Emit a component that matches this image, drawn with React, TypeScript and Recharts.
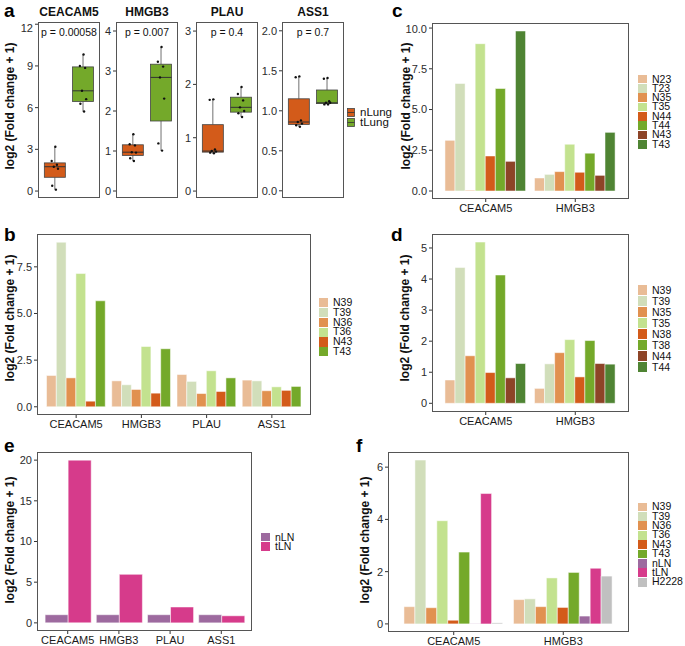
import { BarChart, Bar, XAxis, YAxis, Cell } from 'recharts'

const FONT = '"Liberation Sans", Arial, Helvetica, sans-serif'
const YW = 30
const XH = 20

// ---------- panel a (boxplots) ----------
const boxGenes = ['CEACAM5', 'HMGB3', 'PLAU', 'ASS1']
const boxP = ['p = 0.00058', 'p = 0.007', 'p = 0.4', 'p = 0.7']
const boxGroups = ['nLung', 'tLung']
const nLungPts = [
  [0.1, 0.38, 1.6, 1.75, 1.89, 2.16, 3.19],
  [0.75, 0.82, 0.96, 0.97, 1.14, 1.17, 1.42],
  [0.71, 0.72, 0.74, 0.75, 0.78, 1.71, 1.72],
  [0.8, 0.82, 0.84, 0.86, 0.88, 1.42, 1.43],
]
const tLungPts = [
  [5.72, 6.28, 6.61, 7.21, 8.86, 9.0, 9.82],
  [1.01, 1.19, 2.31, 2.84, 3.11, 3.23, 3.6],
  [1.39, 1.46, 1.5, 1.57, 1.7, 1.82, 1.95],
  [1.08, 1.08, 1.1, 1.1, 1.12, 1.4, 1.41],
]
const boxTicks = [
  [0, 3, 6, 9, 12],
  [0, 1, 2, 3, 4],
  [0, 1, 2, 3],
  [0, 0.5, 1, 1.5, 2],
]
const boxDomains = [
  [-0.5, 12.16],
  [-0.175, 4.225],
  [-0.13, 3.17],
  [-0.09, 2.11],
]
const jitter = [0.1, -0.25, 0.3, -0.1, 0.2, -0.3, 0.05]

// ---------- panel b ----------
const bGenes = ['CEACAM5', 'HMGB3', 'PLAU', 'ASS1']
const bSamples = ['N39', 'T39', 'N36', 'T36', 'N43', 'T43']
const bN39 = [1.68, 1.39, 1.73, 1.43]
const bT39 = [8.82, 1.18, 1.36, 1.39]
const bN36 = [1.55, 0.93, 0.71, 0.86]
const bT36 = [7.14, 3.23, 1.93, 1.07]
const bN43 = [0.3, 0.73, 0.82, 0.88]
const bT43 = [5.68, 3.11, 1.55, 1.09]

// ---------- panel c ----------
const cGenes = ['CEACAM5', 'HMGB3']
const cSamples = ['N23', 'T23', 'N35', 'T35', 'N44', 'T44', 'N43', 'T43']
const cN23 = [3.11, 0.8]
const cT23 = [6.6, 1.02]
const cN35 = [0.04, 1.19]
const cT35 = [9.04, 2.87]
const cN44 = [2.15, 1.15]
const cT44 = [6.29, 2.32]
const cN43 = [1.82, 0.96]
const cT43 = [9.82, 3.6]

// ---------- panel d ----------
const dGenes = ['CEACAM5', 'HMGB3']
const dSamples = ['N39', 'T39', 'N35', 'T35', 'N38', 'T38', 'N44', 'T44']
const dN39 = [0.75, 0.48]
const dT39 = [4.37, 1.27]
const dN35 = [1.53, 1.63]
const dT35 = [5.19, 2.05]
const dN38 = [0.99, 0.85]
const dT38 = [4.13, 2.02]
const dN44 = [0.82, 1.28]
const dT44 = [1.28, 1.26]

// ---------- panel e ----------
const eGenes = ['CEACAM5', 'HMGB3', 'PLAU', 'ASS1']
const eSamples = ['nLN', 'tLN']
const eNLN = [1.0, 1.0, 1.0, 1.0]
const eTLN = [20.0, 5.96, 1.95, 0.87]

// ---------- panel f ----------
const fGenes = ['CEACAM5', 'HMGB3']
const fSamples = ['N39', 'T39', 'N36', 'T36', 'N43', 'T43', 'nLN', 'tLN', 'H2228']
const fN39 = [0.66, 0.93]
const fT39 = [6.27, 0.96]
const fN36 = [0.62, 0.66]
const fT36 = [3.95, 1.76]
const fN43 = [0.14, 0.63]
const fT43 = [2.75, 1.97]
const fNLN = [0.01, 0.3]
const fTLN = [4.99, 2.13]
const fH2228 = [0.04, 1.83]

// colours
const shades = ['#E9BC96', '#D1DEBA', '#E19150', '#C3E28F', '#D35B1A', '#74A92A', '#8D4427', '#4F8433']
const lnColors = ['#9D6A9F', '#D63B8B']
const grey = '#C0C0C0'
const boxColors = ['#D35B1A', '#74A92A']

function q7(s: number[], p: number) {
  const h = (s.length - 1) * p
  const lo = Math.floor(h)
  const hi = Math.min(lo + 1, s.length - 1)
  return s[lo] + (h - lo) * (s[hi] - s[lo])
}

function boxStats(pts: number[]) {
  const s = [...pts].sort((a, b) => a - b)
  const q1 = q7(s, 0.25)
  const med = q7(s, 0.5)
  const q3 = q7(s, 0.75)
  const iqr = q3 - q1
  const lo = Math.min(...s.filter((v) => v >= q1 - 1.5 * iqr))
  const hi = Math.max(...s.filter((v) => v <= q3 + 1.5 * iqr))
  return { q1, med, q3, lo, hi, pts: s, box: [q1, q3] }
}

const BoxShape = (props: any) => {
  const { x, y, width, height, payload, fill } = props
  const top = Math.min(y, y + height)
  const h = Math.abs(height)
  const { q1, q3, med, lo, hi, pts } = payload
  const py = (v: number) => top + (h * (q3 - v)) / (q3 - q1)
  const cx = x + width / 2
  return (
    <g>
      <line x1={cx} x2={cx} y1={py(hi)} y2={py(q3)} stroke="#333" strokeWidth={0.7} />
      <line x1={cx} x2={cx} y1={py(q1)} y2={py(lo)} stroke="#333" strokeWidth={0.7} />
      <rect x={x} y={top} width={width} height={h} fill={fill} stroke="#444" strokeWidth={0.8} />
      <line x1={x} x2={x + width} y1={py(med)} y2={py(med)} stroke="#333" strokeWidth={1} />
      {pts.map((v: number, i: number) => (
        <circle key={i} cx={cx + (jitter[i % jitter.length] * width) / 2} cy={py(v)} r={1.2} fill="#111" />
      ))}
    </g>
  )
}

const tickStyle = { fontSize: 11, fill: '#2b2b2b', stroke: 'none', fontFamily: FONT }

function Frame({ rect }: { rect: number[] }) {
  const [x0, y0, x1, y1] = rect
  return (
    <div
      style={{
        position: 'absolute',
        left: x0,
        top: y0,
        width: x1 - x0,
        height: y1 - y0,
        border: '1px solid #555',
        boxSizing: 'border-box',
        pointerEvents: 'none',
      }}
    />
  )
}

function VLabel({ cx, cy, text }: { cx: number; cy: number; text: string }) {
  return (
    <div
      style={{
        position: 'absolute',
        left: cx,
        top: cy,
        transform: 'translate(-50%, -50%) rotate(-90deg)',
        whiteSpace: 'nowrap',
        fontWeight: 'bold',
        fontSize: 12,
        color: '#111',
      }}
    >
      {text}
    </div>
  )
}

function Tag({ x, base, letter }: { x: number; base: number; letter: string }) {
  return (
    <div
      style={{
        position: 'absolute',
        left: x,
        top: base - 16,
        fontSize: 19,
        lineHeight: '19px',
        fontWeight: 'bold',
        color: '#000',
      }}
    >
      {letter}
    </div>
  )
}

function Keys({ names, colors, x, top, row }: { names: string[]; colors: string[]; x: number; top: number; row: number }) {
  return (
    <div style={{ position: 'absolute', left: x, top }}>
      {names.map((n, i) => (
        <div key={n} style={{ height: row, display: 'flex', alignItems: 'center', fontSize: 10.5, color: '#111' }}>
          <span style={{ width: 9, height: row - 0.6, background: colors[i], marginRight: 5, flex: 'none' }} />
          <span style={{ lineHeight: `${row}px`, height: row }}>{n}</span>
        </div>
      ))}
    </div>
  )
}

function BarPanel({
  cats,
  names,
  values,
  colors,
  rect,
  domain,
  ticks,
  digits,
}: {
  cats: string[]
  names: string[]
  values: number[][]
  colors: string[]
  rect: number[]
  domain: number[]
  ticks: number[]
  digits: number
}) {
  const [x0, y0, x1, y1] = rect
  const w = x1 - x0
  const h = y1 - y0
  const unit = w / (cats.length + 0.2)
  const data = cats.map((c, i) => {
    const row: Record<string, any> = { gene: c }
    names.forEach((n, j) => (row[n] = values[j][i]))
    return row
  })
  return (
    <>
      <div style={{ position: 'absolute', left: x0 - YW, top: y0 }}>
        <BarChart
          width={w + YW}
          height={h + XH}
          data={data}
          margin={{ top: 0, right: 0, bottom: 0, left: 0 }}
          barGap={0}
          barCategoryGap="5%"
          barSize={(unit * 0.9) / names.length}
        >
          <XAxis
            dataKey="gene"
            interval={0}
            padding={{ left: unit * 0.1, right: unit * 0.1 }}
            axisLine={false}
            stroke="#333"
            tickLine={{ stroke: '#333' }}
            tickSize={3}
            height={XH}
            tick={{ ...tickStyle, fill: '#1a1a1a' }}
          />
          <YAxis
            type="number"
            width={YW}
            domain={domain}
            allowDataOverflow
            ticks={ticks}
            axisLine={false}
            stroke="#333"
            tickLine={{ stroke: '#333' }}
            tickSize={3}
            tick={tickStyle}
            tickFormatter={(v: number) => v.toFixed(digits)}
          />
          {names.map((n, j) => (
            <Bar key={n} dataKey={n} fill={colors[j]} stroke="#fff" strokeWidth={0.5} isAnimationActive={false} />
          ))}
        </BarChart>
      </div>
      <Frame rect={rect} />
    </>
  )
}

function BoxFacet({ idx, rect }: { idx: number; rect: number[] }) {
  const [x0, y0, x1, y1] = rect
  const w = x1 - x0
  const h = y1 - y0
  const unit = w / 2.2
  const data = boxGroups.map((g, i) => ({ group: g, ...boxStats(i === 0 ? nLungPts[idx] : tLungPts[idx]) }))
  const ticks = boxTicks[idx]
  const digits = idx === 3 ? 1 : 0
  return (
    <>
      <div
        style={{
          position: 'absolute',
          left: x0,
          width: w,
          top: 5,
          textAlign: 'center',
          fontWeight: 'bold',
          fontSize: 12,
          color: '#111',
        }}
      >
        {boxGenes[idx]}
      </div>
      <div style={{ position: 'absolute', left: x0 - YW, top: y0 }}>
        <BarChart
          width={w + YW}
          height={h}
          data={data}
          margin={{ top: 0, right: 0, bottom: 0, left: 0 }}
          barCategoryGap="12.5%"
        >
          <XAxis dataKey="group" hide height={0} padding={{ left: unit * 0.1, right: unit * 0.1 }} />
          <YAxis
            type="number"
            width={YW}
            domain={boxDomains[idx]}
            allowDataOverflow
            ticks={ticks}
            axisLine={false}
            stroke="#333"
            tickLine={{ stroke: '#333' }}
            tickSize={3}
            tick={tickStyle}
            tickFormatter={(v: number) => v.toFixed(digits)}
          />
          <Bar dataKey="box" shape={BoxShape} isAnimationActive={false}>
            {data.map((d, i) => (
              <Cell key={d.group} fill={boxColors[i]} />
            ))}
          </Bar>
        </BarChart>
      </div>
      <div
        style={{
          position: 'absolute',
          left: x0,
          width: w,
          top: y0 + 4,
          textAlign: 'center',
          fontSize: 10.5,
          color: '#111',
        }}
      >
        {boxP[idx]}
      </div>
      <Frame rect={rect} />
    </>
  )
}

const Y_LABEL = 'log2 (Fold change + 1)'

export default function App() {
  const facetRects = [
    [38, 22, 100, 198],
    [116, 22, 178, 198],
    [196, 22, 258, 198],
    [282, 22, 344, 198],
  ]
  return (
    <div
      style={{
        position: 'absolute',
        left: 0,
        top: 0,
        width: 685,
        height: 646,
        background: '#fff',
        fontFamily: FONT,
        overflow: 'hidden',
      }}
    >
      {/* a */}
      <Tag x={4} base={17} letter="a" />
      <VLabel cx={10} cy={106} text={Y_LABEL} />
      {facetRects.map((r, i) => (
        <BoxFacet key={i} idx={i} rect={r} />
      ))}
      <div style={{ position: 'absolute', left: 347, top: 107, fontSize: 11.5, color: '#111' }}>
        {boxGroups.map((g, i) => (
          <div key={g} style={{ height: 10, display: 'flex', alignItems: 'center' }}>
            <svg width={8} height={9} style={{ marginRight: 5, flex: 'none' }}>
              <rect x={0.5} y={0.5} width={7} height={8} fill={boxColors[i]} stroke="#444" strokeWidth={0.8} />
              <line x1={0.5} x2={7.5} y1={4.5} y2={4.5} stroke="#333" strokeWidth={0.8} />
            </svg>
            <span style={{ lineHeight: '10px', height: 10 }}>{g}</span>
          </div>
        ))}
      </div>

      {/* c */}
      <Tag x={392} base={17} letter="c" />
      <VLabel cx={406} cy={106} text={Y_LABEL} />
      <BarPanel
        cats={cGenes}
        names={cSamples}
        values={[cN23, cT23, cN35, cT35, cN44, cT44, cN43, cT43]}
        colors={shades}
        rect={[432, 23, 629, 199]}
        domain={[-0.49, 10.31]}
        ticks={[0, 2.5, 5, 7.5, 10]}
        digits={1}
      />
      <Keys names={cSamples} colors={shades} x={638} top={74.5} row={9.3} />

      {/* b */}
      <Tag x={4} base={241} letter="b" />
      <VLabel cx={10} cy={318} text={Y_LABEL} />
      <BarPanel
        cats={bGenes}
        names={bSamples}
        values={[bN39, bT39, bN36, bT36, bN43, bT43]}
        colors={shades.slice(0, 6)}
        rect={[37, 234, 311, 415]}
        domain={[-0.44, 9.26]}
        ticks={[0, 2.5, 5, 7.5]}
        digits={1}
      />
      <Keys names={bSamples} colors={shades.slice(0, 6)} x={319} top={298} row={9.8} />

      {/* d */}
      <Tag x={391} base={241} letter="d" />
      <VLabel cx={405} cy={318} text={Y_LABEL} />
      <BarPanel
        cats={dGenes}
        names={dSamples}
        values={[dN39, dT39, dN35, dT35, dN38, dT38, dN44, dT44]}
        colors={shades}
        rect={[432, 234, 629, 412]}
        domain={[-0.28, 5.45]}
        ticks={[0, 1, 2, 3, 4, 5]}
        digits={0}
      />
      <Keys names={dSamples} colors={shades} x={638} top={284.5} row={11} />

      {/* e */}
      <Tag x={4} base={452} letter="e" />
      <VLabel cx={10} cy={540} text={Y_LABEL} />
      <BarPanel
        cats={eGenes}
        names={eSamples}
        values={[eNLN, eTLN]}
        colors={lnColors}
        rect={[37, 452, 252, 631]}
        domain={[-1.0, 21.0]}
        ticks={[0, 5, 10, 15, 20]}
        digits={0}
      />
      <Keys names={eSamples} colors={lnColors} x={261} top={532.5} row={9.3} />

      {/* f */}
      <Tag x={356} base={452} letter="f" />
      <VLabel cx={365} cy={540} text={Y_LABEL} />
      <BarPanel
        cats={fGenes}
        names={fSamples}
        values={[fN39, fT39, fN36, fT36, fN43, fT43, fNLN, fTLN, fH2228]}
        colors={[...shades.slice(0, 6), ...lnColors, grey]}
        rect={[388, 452, 629, 632]}
        domain={[-0.31, 6.58]}
        ticks={[0, 2, 4, 6]}
        digits={0}
      />
      <Keys
        names={fSamples}
        colors={[...shades.slice(0, 6), ...lnColors, grey]}
        x={638}
        top={502.3}
        row={9.4}
      />
    </div>
  )
}
